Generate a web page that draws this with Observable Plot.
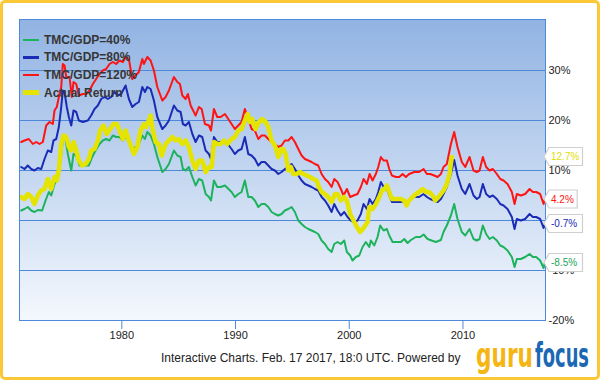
<!DOCTYPE html>
<html>
<head>
<meta charset="utf-8">
<script src="https://cdn.jsdelivr.net/npm/d3@7"></script>
<script src="https://cdn.jsdelivr.net/npm/@observablehq/plot@0.6"></script>
<style>
  html, body { margin: 0; padding: 0; background: #fff; }
  #page { position: relative; width: 600px; height: 380px; overflow: hidden; font-family: "Liberation Sans", Arial, sans-serif; }
  #chart { position: absolute; left: 0; top: 0; }
  #frame { position: absolute; left: 0; top: 0; width: 600px; height: 380px; box-sizing: border-box; border: 3px solid #fbc938; border-radius: 5px; pointer-events: none; }
  #legend { position: absolute; left: 23px; top: 31px; font-weight: bold; font-size: 12px; color: #363636; }
  #legend .row { height: 17.6px; display: flex; align-items: center; white-space: nowrap; }
  #legend .sw { display: inline-block; width: 16px; margin-right: 5px; }
  #caption { position: absolute; left: 161px; top: 351px; font-size: 12px; color: #222; white-space: nowrap; }
  #logo { position: absolute; left: 476px; top: 336px; overflow: visible; }
</style>
</head>
<body>
<div id="page">
  <div id="chart"></div>
  <div id="legend"></div>
  <div id="caption">Interactive Charts. Feb. 17 2017, 18:0 UTC. Powered by</div>
  <svg id="logo" width="116" height="42">
    <text x="0" y="31" fill="#f5b512" font-family="'DejaVu Sans Condensed', 'Liberation Sans Narrow', sans-serif" font-weight="bold" font-size="34" textLength="57" lengthAdjust="spacingAndGlyphs">guru</text>
    <text x="59" y="31" fill="#1b68b4" font-family="'DejaVu Sans Condensed', 'Liberation Sans Narrow', sans-serif" font-weight="bold" font-size="34" textLength="54" lengthAdjust="spacingAndGlyphs">focus</text>
  </svg>
  <div id="frame"></div>
</div>
<script>
// ---- data: [year, percent] ----
const tmc40 = [
[1971.15,2.0],[1971.44,2.3],[1971.73,2.7],[1972.03,2.0],[1972.32,1.7],[1972.61,2.1],[1972.99,2.0],[1973.29,4.0],[1973.58,5.7],[1973.79,5.0],
[1974.08,7.3],[1974.37,8.3],[1974.58,11.3],[1974.81,16.0],[1975.02,16.7],[1975.25,13.3],[1975.55,10.0],[1975.75,13.3],[1975.99,13.0],[1976.28,11.0],
[1976.72,11.0],[1977.10,11.0],[1977.39,12.7],[1977.69,14.0],[1978.04,15.3],[1978.33,16.0],[1978.62,16.3],[1978.92,16.0],[1979.21,17.0],[1979.50,16.7],
[1979.80,16.7],[1980.09,16.0],[1980.33,16.7],[1980.62,16.0],[1980.92,14.0],[1981.21,14.7],[1981.50,15.3],[1981.80,17.0],[1982.03,16.3],[1982.24,17.7],
[1982.53,17.0],[1982.82,15.3],[1983.12,12.7],[1983.56,9.7],[1983.85,10.3],[1984.14,11.3],[1984.58,14.0],[1984.88,13.0],[1985.17,12.7],[1985.37,10.3],
[1985.61,10.0],[1985.90,10.7],[1986.20,8.7],[1986.49,7.0],[1986.78,8.3],[1987.07,8.0],[1987.37,5.3],[1987.66,4.7],[1987.84,4.0],[1988.10,8.0],
[1988.39,6.7],[1988.69,6.7],[1989.07,7.0],[1989.65,5.7],[1989.94,4.7],[1990.24,5.3],[1990.53,5.7],[1990.82,8.0],[1991.12,4.7],[1991.41,4.7],
[1991.70,4.0],[1992.00,2.7],[1992.29,3.3],[1992.58,3.3],[1992.88,2.7],[1993.17,1.7],[1993.46,1.3],[1993.76,1.0],[1994.05,1.3],[1994.34,2.0],
[1994.64,2.3],[1994.93,2.7],[1995.22,1.7],[1995.52,0.0],[1995.81,-0.7],[1996.10,-1.3],[1996.40,-1.7],[1996.69,-2.0],[1996.98,-2.3],[1997.27,-2.7],
[1997.57,-4.0],[1997.86,-4.7],[1998.15,-5.7],[1998.45,-6.3],[1998.68,-4.7],[1998.97,-4.3],[1999.26,-4.7],[1999.56,-4.0],[1999.79,-6.3],[2000.08,-7.0],
[2000.29,-8.0],[2000.58,-7.3],[2000.88,-7.0],[2001.17,-5.3],[2001.46,-4.3],[2001.76,-5.3],[2001.90,-4.0],[2002.20,-5.0],[2002.49,-3.3],[2002.72,-1.0],
[2003.02,-2.0],[2003.31,-1.7],[2003.52,-3.0],[2003.81,-4.3],[2004.19,-4.3],[2004.54,-4.3],[2004.84,-3.7],[2005.13,-4.5],[2005.42,-3.9],[2005.86,-3.3],
[2006.24,-3.3],[2006.54,-2.8],[2006.89,-3.7],[2007.24,-4.0],[2007.62,-4.3],[2008.06,-3.9],[2008.29,-2.3],[2008.58,-1.0],[2008.94,1.0],[2009.23,3.3],
[2009.52,0.3],[2009.90,-2.3],[2010.20,-3.0],[2010.58,-1.7],[2010.93,-3.7],[2011.22,-4.0],[2011.46,-3.7],[2011.75,-1.0],[2012.04,-2.7],[2012.34,-3.7],
[2012.63,-3.3],[2012.98,-4.0],[2013.28,-5.0],[2013.57,-5.3],[2013.92,-6.0],[2014.30,-7.3],[2014.54,-9.3],[2014.74,-7.7],[2015.09,-7.7],[2015.47,-7.3],
[2015.86,-6.7],[2016.15,-7.3],[2016.44,-7.3],[2016.79,-8.0],[2017.09,-9.5],[2017.20,-8.5]
];
const tmc80 = [
[1971.15,10.7],[1971.44,10.3],[1971.73,11.0],[1972.03,10.3],[1972.32,10.0],[1972.61,10.5],[1972.91,10.3],[1973.20,12.3],[1973.49,14.0],[1973.79,13.7],
[1973.99,16.0],[1974.23,16.3],[1974.46,18.7],[1974.67,22.7],[1974.81,26.0],[1974.96,25.7],[1975.16,22.7],[1975.34,20.7],[1975.55,19.0],[1975.75,22.0],
[1975.99,21.7],[1976.22,20.0],[1976.57,19.7],[1977.01,20.0],[1977.30,21.0],[1977.60,22.3],[1977.89,23.0],[1978.18,24.3],[1978.48,24.7],[1978.77,24.3],
[1979.06,24.7],[1979.36,25.7],[1979.65,25.0],[1979.94,25.3],[1980.33,27.0],[1980.62,24.3],[1980.92,22.7],[1981.21,23.3],[1981.50,23.7],[1981.80,26.7],
[1982.03,25.7],[1982.24,26.7],[1982.53,26.3],[1982.82,24.0],[1983.12,20.7],[1983.56,18.3],[1983.85,19.0],[1984.14,20.0],[1984.58,23.0],[1984.88,22.0],
[1985.17,21.7],[1985.37,19.3],[1985.61,19.0],[1985.90,19.7],[1986.20,17.3],[1986.49,15.7],[1986.78,17.0],[1987.07,16.7],[1987.37,14.0],[1987.66,13.3],
[1987.84,12.3],[1988.10,16.7],[1988.39,15.7],[1988.69,15.7],[1989.07,16.0],[1989.65,14.3],[1989.94,13.3],[1990.24,14.0],[1990.53,14.3],[1990.82,16.7],
[1991.12,13.3],[1991.41,13.0],[1991.70,12.3],[1992.00,11.0],[1992.29,11.7],[1992.58,11.7],[1992.88,11.0],[1993.17,10.3],[1993.46,10.0],[1993.76,9.3],
[1994.05,9.7],[1994.34,10.3],[1994.64,10.7],[1994.93,11.3],[1995.22,10.3],[1995.52,9.0],[1995.81,8.0],[1996.10,7.3],[1996.40,7.0],[1996.69,6.7],
[1996.98,6.3],[1997.27,6.0],[1997.57,4.7],[1997.86,4.0],[1998.15,3.0],[1998.45,1.7],[1998.68,3.3],[1998.97,2.0],[1999.26,1.0],[1999.56,1.7],
[1999.85,0.7],[2000.14,0.0],[2000.44,-0.3],[2000.73,0.0],[2001.02,1.3],[2001.26,3.3],[2001.55,2.3],[2001.79,4.3],[2002.05,3.3],[2002.34,4.3],
[2002.55,5.7],[2002.78,7.7],[2003.02,6.7],[2003.31,6.3],[2003.52,5.0],[2003.75,3.7],[2004.10,3.7],[2004.54,3.7],[2004.84,4.0],[2005.04,3.3],
[2005.27,4.0],[2005.72,4.7],[2006.15,4.7],[2006.54,5.3],[2006.83,4.7],[2007.12,4.3],[2007.47,4.0],[2007.77,3.7],[2008.06,4.3],[2008.29,5.3],
[2008.58,6.7],[2008.94,9.3],[2009.23,12.1],[2009.52,9.0],[2009.90,6.3],[2010.20,5.3],[2010.58,7.3],[2010.93,5.0],[2011.22,4.3],[2011.46,4.7],
[2011.75,7.3],[2012.04,5.3],[2012.34,4.7],[2012.63,5.0],[2012.98,4.3],[2013.28,3.3],[2013.57,3.0],[2013.92,2.3],[2014.30,0.7],[2014.54,-1.7],
[2014.74,0.3],[2015.09,0.0],[2015.47,0.3],[2015.86,1.3],[2016.15,0.7],[2016.44,0.7],[2016.79,0.3],[2017.09,-1.5],[2017.20,-0.7]
];
const tmc120 = [
[1971.15,15.7],[1971.44,16.0],[1971.82,16.3],[1972.17,15.3],[1972.47,15.7],[1972.76,15.3],[1973.05,15.7],[1973.35,19.0],[1973.64,19.7],[1973.93,19.3],
[1974.08,22.0],[1974.28,22.7],[1974.52,25.3],[1974.67,26.7],[1974.81,31.3],[1974.96,31.0],[1975.11,28.7],[1975.40,28.7],[1975.60,24.7],[1975.75,27.7],
[1975.99,27.3],[1976.22,25.0],[1976.57,25.3],[1976.87,25.3],[1977.16,26.0],[1977.45,27.3],[1977.74,28.3],[1978.04,29.3],[1978.33,30.0],[1978.62,30.3],
[1978.92,31.3],[1979.21,31.7],[1979.50,31.3],[1979.80,32.0],[1980.09,31.7],[1980.33,32.7],[1980.62,32.3],[1980.92,28.3],[1981.21,29.0],[1981.50,29.7],
[1981.80,32.3],[1981.94,31.3],[1982.24,32.7],[1982.53,32.0],[1982.82,30.0],[1983.12,26.7],[1983.56,24.0],[1983.85,24.7],[1984.14,26.0],[1984.58,28.7],
[1984.88,27.7],[1985.11,27.3],[1985.32,25.0],[1985.61,24.3],[1985.81,25.3],[1986.05,23.0],[1986.49,21.0],[1986.78,22.7],[1987.02,22.3],[1987.31,19.3],
[1987.66,19.0],[1987.84,18.0],[1988.10,22.3],[1988.39,20.7],[1988.69,20.7],[1989.07,21.3],[1989.65,19.3],[1989.94,18.3],[1990.24,19.0],[1990.53,19.7],
[1990.82,22.3],[1991.12,20.3],[1991.41,18.3],[1991.70,18.0],[1992.00,16.3],[1992.29,17.0],[1992.58,17.0],[1992.88,16.3],[1993.17,15.7],[1993.46,15.3],
[1993.76,14.7],[1994.05,15.0],[1994.34,16.0],[1994.64,16.0],[1994.93,16.7],[1995.22,15.7],[1995.52,14.3],[1995.81,13.0],[1996.10,12.3],[1996.40,12.0],
[1996.69,11.7],[1996.98,11.3],[1997.27,11.0],[1997.57,9.3],[1997.86,8.3],[1998.15,7.7],[1998.45,6.7],[1998.68,8.3],[1998.97,7.7],[1999.26,6.3],
[1999.50,5.0],[1999.79,6.3],[2000.08,4.7],[2000.38,5.0],[2000.73,5.3],[2001.02,6.7],[2001.26,8.3],[2001.55,7.3],[2001.79,9.3],[2002.05,8.0],
[2002.34,9.3],[2002.55,10.7],[2002.78,12.7],[2003.02,12.0],[2003.31,12.0],[2003.52,10.3],[2003.75,9.0],[2004.10,8.7],[2004.40,8.7],[2004.69,9.3],
[2004.98,8.7],[2005.27,9.3],[2005.72,9.7],[2006.15,9.7],[2006.54,10.3],[2006.83,9.3],[2007.12,9.3],[2007.47,9.0],[2007.77,8.7],[2008.06,9.3],
[2008.29,10.7],[2008.58,11.3],[2008.94,15.3],[2009.23,17.7],[2009.52,14.7],[2009.90,11.7],[2010.20,10.7],[2010.58,12.7],[2010.93,10.0],[2011.22,9.7],
[2011.46,10.0],[2011.75,12.7],[2012.04,10.7],[2012.34,10.0],[2012.63,10.3],[2012.98,9.3],[2013.28,8.3],[2013.57,8.0],[2013.92,7.3],[2014.30,5.7],
[2014.54,3.3],[2014.74,5.3],[2015.09,5.0],[2015.47,5.3],[2015.86,6.3],[2016.15,5.7],[2016.44,5.7],[2016.79,5.3],[2017.09,3.3],[2017.20,4.2]
];
const actual = [
[1971.15,4.7],[1971.44,4.3],[1971.73,5.3],[1972.03,4.7],[1972.32,3.3],[1972.61,5.0],[1972.91,6.0],[1973.20,6.3],[1973.49,8.3],[1973.79,6.3],
[1974.08,8.7],[1974.28,8.0],[1974.46,10.0],[1974.67,15.3],[1974.87,17.0],[1975.11,16.7],[1975.34,14.7],[1975.55,14.0],[1975.75,15.7],[1975.99,14.0],
[1976.22,12.0],[1976.51,11.0],[1976.81,11.3],[1977.10,12.3],[1977.30,14.0],[1977.60,14.3],[1977.89,16.0],[1978.10,18.0],[1978.39,19.0],[1978.68,17.3],
[1978.98,18.3],[1979.27,19.3],[1979.56,19.3],[1979.80,18.0],[1980.09,16.3],[1980.33,18.0],[1980.62,16.0],[1981.06,13.3],[1981.36,14.7],[1981.65,18.0],
[1981.94,19.3],[1982.15,18.7],[1982.53,21.0],[1982.73,18.0],[1982.97,15.7],[1983.26,15.3],[1983.50,13.0],[1983.85,15.3],[1984.14,16.0],[1984.44,16.7],
[1984.73,16.0],[1985.02,16.3],[1985.32,15.3],[1985.61,16.0],[1985.90,14.7],[1986.20,12.0],[1986.49,10.3],[1986.78,12.0],[1987.07,12.0],[1987.37,9.7],
[1987.66,10.7],[1987.90,10.7],[1988.10,15.7],[1988.39,15.3],[1988.69,15.3],[1988.98,16.0],[1989.27,15.3],[1989.65,16.3],[1989.94,16.7],[1990.24,18.0],
[1990.53,18.3],[1990.82,20.0],[1991.06,21.3],[1991.26,19.7],[1991.47,20.3],[1991.76,18.3],[1992.05,19.7],[1992.35,20.3],[1992.64,19.7],[1992.88,18.7],
[1993.17,16.0],[1993.46,15.0],[1993.76,12.7],[1993.99,14.3],[1994.20,14.3],[1994.40,13.3],[1994.64,10.0],[1994.87,10.7],[1995.08,9.3],[1995.37,9.3],
[1995.66,9.7],[1995.96,9.3],[1996.25,9.0],[1996.54,8.7],[1996.84,8.3],[1997.13,8.0],[1997.33,6.7],[1997.57,5.7],[1997.86,5.3],[1998.15,4.7],
[1998.45,3.7],[1998.74,5.3],[1998.97,5.3],[1999.26,4.0],[1999.56,4.7],[1999.79,4.0],[2000.08,1.3],[2000.38,0.0],[2000.67,-1.3],[2000.96,-2.3],
[2001.32,-1.3],[2001.61,-0.3],[2001.76,2.7],[2002.05,2.3],[2002.34,3.3],[2002.64,4.7],[2002.87,6.0],[2003.08,6.3],[2003.31,7.0],[2003.52,5.7],
[2003.75,4.3],[2004.10,4.3],[2004.54,4.3],[2004.84,4.0],[2005.04,3.0],[2005.27,4.0],[2005.57,4.7],[2005.86,5.3],[2006.15,5.7],[2006.45,6.3],
[2006.74,5.7],[2007.03,5.7],[2007.33,5.0],[2007.56,4.0],[2007.86,4.7],[2008.30,6.0],[2008.58,7.3],[2008.82,9.3],[2009.02,12.7]
];
const seriesNames = ["TMC/GDP=40%", "TMC/GDP=80%", "TMC/GDP=120%", "Actual Return"];
const seriesColors = ["#1db25c", "#1a2bb5", "#ff1414", "#e4e400"];
const seriesWidths = [2, 2, 2, 4.5];
const endLabels = [
  {value: 12.7, text: "12.7%", color: "#dede00"},
  {value: 4.2, text: "4.2%", color: "#ff1414"},
  {value: -0.7, text: "-0.7%", color: "#1a2bb5"},
  {value: -8.5, text: "-8.5%", color: "#1aa657"}
];
const xTicks = [1980, 1990, 2000, 2010];
const yTicks = [-20, -10, 0, 10, 20, 30];
const gridValues = [-10, 0, 10, 20, 30];
const xDomain = [1971.0, 2017.26];
const yDomain = [-20, 40.2];

const blue = "#4d88d9";

function background(index, scales, values, dims) {
  const g = d3.create("svg:g");
  const lg = g.append("defs").append("linearGradient")
    .attr("id", "bgGrad").attr("x1", 0).attr("y1", 0).attr("x2", 0).attr("y2", 1);
  lg.append("stop").attr("offset", "0%").attr("stop-color", "#91b3e3");
  lg.append("stop").attr("offset", "50%").attr("stop-color", "#c3d6f0");
  lg.append("stop").attr("offset", "100%").attr("stop-color", "#f4f8fd");
  g.append("rect")
    .attr("x", dims.marginLeft).attr("y", dims.marginTop)
    .attr("width", dims.width - dims.marginLeft - dims.marginRight)
    .attr("height", dims.height - dims.marginTop - dims.marginBottom)
    .attr("fill", "url(#bgGrad)");
  return g.node();
}

function callouts(index, scales, values, dims) {
  const g = d3.create("svg:g").attr("text-anchor", "start");
  const x0 = dims.width - dims.marginRight;
  for (const c of endLabels) {
    const yy = scales.y(c.value);
    const w = c.text.length * 5.3 + 7;
    const h = 18;
    g.append("path")
      .attr("d", `M${x0 - 1},${yy} L${x0 + 4},${yy - h / 2} H${x0 + 4 + w} V${yy + h / 2} H${x0 + 4} Z`)
      .attr("fill", "#fff").attr("stroke", "#cfcfcf").attr("stroke-width", 1.2);
    g.append("text")
      .attr("x", x0 + 6).attr("y", yy).attr("dy", "0.35em")
      .attr("text-anchor", "start")
      .attr("fill", c.color).attr("font-size", 10)
      .text(c.text);
  }
  return g.node();
}

const allSeries = [tmc40, tmc80, tmc120, actual];

const plot = Plot.plot({
  width: 600,
  height: 345,
  marginLeft: 19,
  marginRight: 55,
  marginTop: 19,
  marginBottom: 25,
  style: {fontFamily: "'Liberation Sans', Arial, sans-serif", fontSize: "11px", color: "#222", background: "transparent"},
  x: {domain: xDomain},
  y: {domain: yDomain},
  marks: [
    background,
    Plot.ruleY(gridValues, {stroke: blue, strokeWidth: 1}),
    ...allSeries.map((s, i) => Plot.line(s, {
      x: d => d[0], y: d => d[1],
      stroke: seriesColors[i], strokeWidth: seriesWidths[i],
      strokeLinejoin: "round", strokeLinecap: "round"
    })),
    Plot.frame({stroke: blue, strokeWidth: 1}),
    Plot.axisX({ticks: xTicks, tickFormat: d => String(d), tickSize: 9, tickPadding: 2, stroke: blue, fill: "#222"}),
    Plot.axisY({anchor: "right", ticks: yTicks, tickFormat: d => d + "%", tickSize: 0, tickPadding: 3, fill: "#222"}),
    callouts
  ]
});
document.getElementById("chart").appendChild(plot);

const legend = document.getElementById("legend");
seriesNames.forEach((name, i) => {
  const row = document.createElement("div");
  row.className = "row";
  const sw = document.createElement("span");
  sw.className = "sw";
  sw.style.height = (i === 3 ? 5 : 2.5) + "px";
  sw.style.background = seriesColors[i];
  row.appendChild(sw);
  row.appendChild(document.createTextNode(name));
  legend.appendChild(row);
});
</script>
</body>
</html>
